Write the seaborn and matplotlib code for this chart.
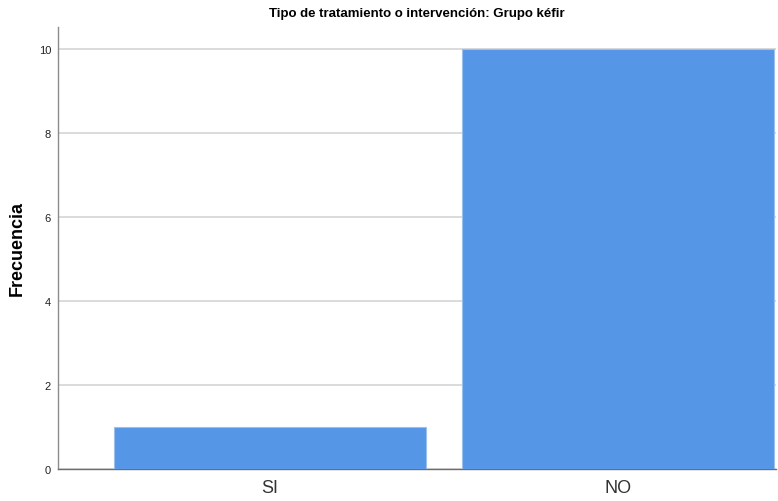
import matplotlib
matplotlib.use("Agg")
import matplotlib.pyplot as plt
import seaborn as sns
import pandas as pd

categorias = ["SI", "NO"]
frecuencias = [1, 10]
ticks_y = [0, 2, 4, 6, 8, 10]

sns.set_theme(style="white")
plt.rcParams["font.family"] = ["Liberation Sans", "DejaVu Sans"]

df = pd.DataFrame({"categoria": categorias, "frecuencia": frecuencias})

fig = plt.figure(figsize=(7.78, 5.02), dpi=100)
ax = fig.add_axes([58 / 778, 1 - 470 / 502, 718 / 778, 442 / 502])

sns.barplot(data=df, x="categoria", y="frecuencia", color="#5596E6",
            saturation=1, width=0.897, edgecolor="#9cc0ee", linewidth=0.8,
            ax=ax, zorder=3)

ax.set_xlim(-0.609, 1.454)
ax.set_ylim(0, 10.52)
ax.set_yticks(ticks_y)
ax.yaxis.grid(True, color="#d4d4d4", linewidth=1.2, zorder=0)
ax.xaxis.grid(False)

for s in ["top", "right"]:
    ax.spines[s].set_visible(False)
ax.spines["left"].set_color("#8c8c8c")
ax.spines["bottom"].set_color("#6e6e6e")
ax.spines["left"].set_linewidth(1.0)
ax.spines["bottom"].set_linewidth(1.0)

ax.tick_params(axis="y", length=0, pad=5, labelsize=8, labelcolor="#222222")
ax.tick_params(axis="x", length=0, pad=7, labelsize=13, labelcolor="#333333")

ax.set_xlabel("")
ax.set_ylabel("Frecuencia", fontsize=13, fontweight="bold", color="black")
ax.yaxis.set_label_coords((26 - 58) / 718, 0.5)

fig.text(417 / 778, 1 - 14 / 502,
         "Tipo de tratamiento o intervención: Grupo kéfir",
         fontsize=9.5, fontweight="bold", color="black",
         ha="center", va="center")

fig.savefig("out.png", dpi=100)
